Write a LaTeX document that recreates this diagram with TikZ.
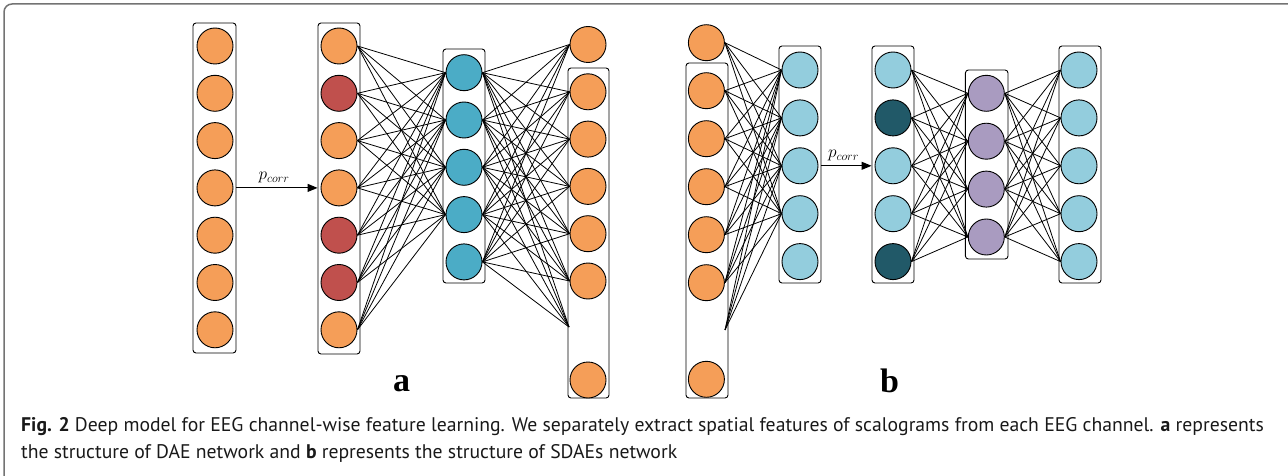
\documentclass[tikz,border=0pt]{standalone}
\usepackage{fontspec}
\setmainfont{Liberation Serif}
\newfontfamily\capfont{PT Sans}
\usepackage{xcolor}
\usetikzlibrary{arrows.meta, positioning}

\definecolor{nodeorange}{HTML}{F59E58}
\definecolor{nodered}{HTML}{C0504D}
\definecolor{nodeblue}{HTML}{4BACC6}
\definecolor{nodelight}{HTML}{93CDDD}
\definecolor{nodedark}{HTML}{215968}
\definecolor{nodepurple}{HTML}{A99BC0}

\tikzset{
  neuron/.style={circle, draw, line width=0.9pt, minimum size=36pt, inner sep=0pt},
  layerbox/.style={draw, line width=0.9pt, rounded corners=3pt},
  link/.style={line width=0.8pt},
  corrarrow/.style={line width=0.9pt, -{Triangle[length=10pt, width=8pt]}, shorten <=3pt, shorten >=3pt},
  captext/.style={anchor=base west, inner sep=0pt, font=\capfont\fontsize{19.7}{20}\selectfont, text=black!90},
}

\begin{document}
\begin{tikzpicture}[x=1pt, y=-1pt]
    \useasboundingbox (0,0) rectangle (1288,476);
    % 外框
    \draw[black!55, line width=1.5pt, rounded corners=8pt] (1292,4) -- (4,4) -- (4,482);

    % (a) 输入层
    \draw[layerbox] (193,23) rectangle (236,353);
    \foreach \i in {1,...,7}
        \node[neuron, fill=nodeorange] (ain\i) at (215, {46+47.3*(\i-1)}) {};

    % (a) 加噪层
    \draw[layerbox] (318,23) rectangle (360,354);
    \foreach \i/\c in {1/nodeorange, 2/nodered, 3/nodeorange, 4/nodeorange, 5/nodered, 6/nodered, 7/nodeorange}
        \node[neuron, fill=\c] (acr\i) at (339, {46+47.3*(\i-1)}) {};

    \draw[corrarrow] (ain4.east) -- node[above=1pt, xshift=-3pt, font=\fontsize{17}{17}\selectfont] (pa) {$p_{corr}$} (acr4.west);

    % (a) 隐藏层
    \draw[layerbox] (443,49) rectangle (485,283);
    \foreach \j in {1,...,5}
        \node[neuron, fill=nodeblue] (ah\j) at (464, {72.7+47.3*(\j-1)}) {};

    % (a) 输出层
    \draw[layerbox] (568,68) rectangle (609,398);
    \foreach \k in {1,...,6}
        \node[neuron, fill=nodeorange] (aout\k) at (588, {44.5+47.3*(\k-1)}) {};
    \coordinate (aout7) at (569,327);
    \node[neuron, fill=nodeorange] (aout8) at (588,380) {};

    \foreach \i in {1,...,7}
        \foreach \j in {1,...,4}
            \draw[link] (acr\i.east) -- (ah\j.west);
    \foreach \j in {1,...,5} {
        \foreach \k in {1,...,6}
            \draw[link] (ah\j.east) -- (aout\k.west);
        \draw[link] (ah\j.east) -- (aout7);
    }

    \node[font=\bfseries\fontsize{34}{34}\selectfont] (la) at (401.7,383.8) {a};

    % (b) 输入层
    \draw[layerbox] (686,63) rectangle (728,398);
    \node[neuron, fill=nodeorange] (bin1) at (706.4,42.7) {};
    \foreach \k in {2,...,6}
        \node[neuron, fill=nodeorange] (bin\k) at (706.4, {90.7+48*(\k-2)}) {};
    \coordinate (bin7) at (725,330);
    \node[neuron, fill=nodeorange] (bin8) at (706.4,379.3) {};

    % (b) 第一隐藏层
    \draw[layerbox] (779,46) rectangle (821,283);
    \foreach \j in {1,...,5}
        \node[neuron, fill=nodelight] (bh\j) at (800, {70+47.9*(\j-1)}) {};

    \foreach \j in {1,...,4} {
        \foreach \k in {1,...,6}
            \draw[link] (bin\k.east) -- (bh\j.west);
        \draw[link] (bin7) -- (bh\j.west);
    }

    % (b) 加噪层
    \draw[layerbox] (872,46) rectangle (914,283);
    \foreach \j/\c in {1/nodelight, 2/nodedark, 3/nodelight, 4/nodelight, 5/nodedark}
        \node[neuron, fill=\c] (bc\j) at (893, {70+47.9*(\j-1)}) {};

    \draw[corrarrow] (bh3.east) -- node[above=1pt, xshift=-3pt, font=\fontsize{17}{17}\selectfont] (pb) {$p_{corr}$} (bc3.west);

    % (b) 第二隐藏层
    \draw[layerbox] (965.4,70) rectangle (1008,259);
    \foreach \m in {1,...,4}
        \node[neuron, fill=nodepurple] (bz\m) at (986.3, {93.3+47.9*(\m-1)}) {};

    % (b) 输出层
    \draw[layerbox] (1059,46) rectangle (1101,283);
    \foreach \j in {1,...,5}
        \node[neuron, fill=nodelight] (bout\j) at (1079, {70+47.9*(\j-1)}) {};

    \foreach \j in {1,...,5}
        \foreach \m in {1,...,4} {
            \draw[link] (bc\j.east) -- (bz\m.west);
            \draw[link] (bz\m.east) -- (bout\j.west);
        }

    \node[font=\bfseries\fontsize{34}{34}\selectfont] (lb) at (889.5,381) {b};

    % 图注
    \node[captext] (cap1) at (21,431)
        {\textbf{Fig. 2} Deep model for EEG channel-wise feature learning. We separately extract spatial features of scalograms from each EEG channel. \textbf{a} represents};
    \node[captext] (cap2) at (21,458)
        {the structure of DAE network and \textbf{b} represents the structure of SDAEs network};
\end{tikzpicture}
\end{document}
